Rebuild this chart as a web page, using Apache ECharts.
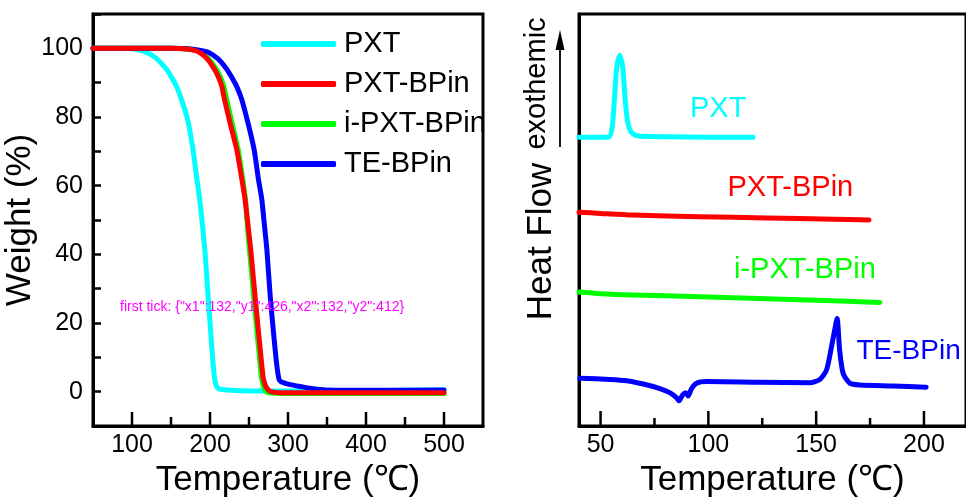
<!DOCTYPE html>
<html>
<head>
<meta charset="utf-8">
<script src="https://cdn.jsdelivr.net/npm/echarts@6/dist/echarts.min.js"></script>
<style>
html,body{margin:0;padding:0;background:#fff;}
#c{width:966px;height:503px;}
</style>
</head>
<body>
<div id="c"></div>
<script>
// ---- TGA (left panel): [temperature, weight %] ----
const tgaPXT = [[50,100],[90,100],[105,99.7],[118,98.9],[130,97.3],[143.9,94],[150,91.8],[156.8,89.1],[163.2,85.2],[171,79.5],[178.2,70.6],[182.5,63],[186.8,56],[193.3,41.4],[197.6,27.8],[201,17],[204,8],[206.2,3.4],[208,1.8],[210.5,1.0],[215,0.6],[240,0.3],[300,0.2],[400,0.3],[500,0.5]];
const tgaPXTBPin = [[50,100],[150,100],[170,99.8],[180,99.4],[188,98.6],[197,96.8],[206,93.8],[211,91.5],[215,89.1],[218.5,85.2],[226,78],[234.2,70.6],[240,63],[244.9,56],[249,48],[252.2,41.4],[257.8,27.8],[261.5,19],[265,11],[268.3,4],[271,1.8],[274,0.7],[278,0],[290,-0.3],[400,-0.3],[500,-0.3]];
const tgaIPXTBPin = [[50,100],[150,100],[172,99.8],[182,99.4],[190,98.6],[199,96.8],[208.5,93.8],[213.5,91.5],[217.5,89.1],[221.3,85.2],[228.5,78],[236,70.6],[241.3,63],[245.5,56],[248,48],[250.5,41.4],[256,27.8],[259.5,19],[263,11],[266,4],[268.5,1.5],[271,0.2],[275,-0.3],[300,-0.5],[500,-0.5]];
const tgaTEBPin = [[50,100],[150,100],[178,99.7],[190,99.3],[197.6,98.9],[210,97],[221.3,94],[228,91.5],[234,89],[240.6,85.2],[249,78],[256.5,70.6],[262,62],[266.4,56],[270,48],[272.9,41.4],[277.2,27.8],[281.5,17],[285.5,8],[288.5,3.6],[290.5,3.0],[293,2.7],[300,2.2],[315.9,1.5],[337.4,0.7],[360,0.4],[400,0.4],[500,0.5]];

// ---- DSC (right panel): [temperature, heat flow (a.u.)] ----
const dscPXT = [[40,70.1],[50,70.1],[54,70.2],[55.5,73],[56.5,80],[57.5,87],[58.9,90],[60.3,87],[61.3,80],[62.5,74],[64,71.5],[66,70.6],[70,70.3],[80,70.2],[100,70.1],[120.7,70.1]];
const dscPXTBPin = [[40,51.9],[50,51.6],[65,51.2],[96,50.8],[127,50.5],[157.8,50.2],[174.5,50.0]];
const dscIPXTBPin = [[40,32.5],[50,32.1],[65,31.8],[96,31.4],[127,30.9],[157.8,30.4],[179.5,30.0]];
const dscTEBPin = [[40.4,11.6],[54.3,11.3],[62.1,11.0],[69.8,10.2],[77.5,9.1],[82.1,8.1],[85.2,6.9],[86.4,6.1],[88.0,7.5],[89.5,8.1],[90.6,7.3],[92.2,9.1],[94.5,10.4],[99.1,10.8],[123.9,10.6],[147,10.5],[151.7,11.3],[154.8,13.6],[157.1,19.2],[158.6,23.3],[159.7,26.1],[160.9,18.4],[162.5,12.8],[165.6,10.4],[170.2,9.95],[185.6,9.7],[201,9.4]];

// ---- axis ticks / labels ----
const tgaXLabels = [100,200,300,400,500];
const tgaXMinor = [150,250,350,450];
const dscXLabels = [50,100,150,200];
const dscXMinor = [75,125,175];
const seriesNames = ['PXT','PXT-BPin','i-PXT-BPin','TE-BPin'];
const seriesColors = ['#00FFFF','#FF0000','#00FF00','#0000FF'];

const TGA_YMIN = -10, DSC_YMIN = 0;
const FONT = 'Liberation Sans, Arial, sans-serif';
const chart = echarts.init(document.getElementById('c'), null, {renderer:'canvas'});

function lineSeries(name, data, xi, yi, color){
  return {
    name: name, type:'line', data: data, xAxisIndex: xi, yAxisIndex: yi,
    showSymbol:false, symbol:'none', color: color,
    smooth:0.25,
    lineStyle:{width:5, color: color, cap:'round', join:'round'},
    itemStyle:{color: color},
    silent:true
  };
}
const axisLineStyle = {show:true, onZero:false, lineStyle:{color:'#000', width:3}};

const option = {
  animation:false,
  backgroundColor:'#fff',
  tooltip:{show:false},
  grid:[
    {left:93, top:14, width:390, height:412, show:true, borderColor:'#000', borderWidth:3, backgroundColor:'transparent'},
    {left:579, top:14, width:387, height:412, show:true, borderColor:'#000', borderWidth:3, backgroundColor:'transparent'}
  ],
  legend:{
    data: seriesNames, orient:'vertical', left:256, top:24,
    itemWidth:75, itemHeight:6, itemGap:10, icon:'roundRect',
    textStyle:{fontSize:29, lineHeight:30, color:'#000', fontFamily:FONT, padding:[0,0,0,3]},
    selectedMode:false
  },
  xAxis:[
    {gridIndex:0, type:'value', position:'bottom', min:50, max:550, axisLine:axisLineStyle,
     axisTick:{show:false},
     axisLabel:{show:true, customValues:tgaXLabels, fontSize:25, color:'#000', fontFamily:FONT, margin:7},
     splitLine:{show:false},
     name:'Temperature (℃)', nameLocation:'middle', nameGap:31,
     nameTextStyle:{fontSize:35, color:'#000', fontFamily:FONT}},
    {gridIndex:1, type:'value', position:'bottom', min:40, max:219.5, axisLine:axisLineStyle,
     axisTick:{show:false},
     axisLabel:{show:true, customValues:dscXLabels, fontSize:25, color:'#000', fontFamily:FONT, margin:7},
     splitLine:{show:false},
     name:'Temperature (℃)', nameLocation:'middle', nameGap:31,
     nameTextStyle:{fontSize:35, color:'#000', fontFamily:FONT}}
  ],
  yAxis:[
    {gridIndex:0, type:'value', position:'left', min:TGA_YMIN, max:110, interval:10, axisLine:axisLineStyle,
     axisTick:{show:true, inside:true, length:8, lineStyle:{color:'#000', width:2.5}},
     axisLabel:{show:true, fontSize:25, color:'#000', fontFamily:FONT, margin:10,
       formatter:function(v){ return (v>=0 && v<=100 && v%20===0) ? String(v) : ''; }},
     splitLine:{show:false},
     name:'Weight (%)', nameLocation:'middle', nameGap:39,
     nameTextStyle:{fontSize:35, color:'#000', fontFamily:FONT}},
    {gridIndex:1, type:'value', position:'left', min:DSC_YMIN, max:100, axisLine:axisLineStyle,
     axisTick:{show:false}, axisLabel:{show:false}, splitLine:{show:false}}
  ],
  series:[
    lineSeries('PXT', tgaPXT, 0, 0, seriesColors[0]),
    lineSeries('i-PXT-BPin', tgaIPXTBPin, 0, 0, seriesColors[2]),
    lineSeries('TE-BPin', tgaTEBPin, 0, 0, seriesColors[3]),
    lineSeries('PXT-BPin', tgaPXTBPin, 0, 0, seriesColors[1]),
    lineSeries('PXT', dscPXT, 1, 1, seriesColors[0]),
    lineSeries('PXT-BPin', dscPXTBPin, 1, 1, seriesColors[1]),
    lineSeries('i-PXT-BPin', dscIPXTBPin, 1, 1, seriesColors[2]),
    lineSeries('TE-BPin', dscTEBPin, 1, 1, seriesColors[3])
  ],
  graphic:[
    {id:'lblPXT', type:'text', x:690, y:108.5, style:{text:'PXT', fill:seriesColors[0], font:'29px '+FONT, textAlign:'left', textVerticalAlign:'middle'}},
    {id:'lblPXTB', type:'text', x:727.5, y:188, style:{text:'PXT-BPin', fill:seriesColors[1], font:'29px '+FONT, textAlign:'left', textVerticalAlign:'middle'}},
    {id:'lblIPXT', type:'text', x:734, y:269.5, style:{text:'i-PXT-BPin', fill:seriesColors[2], font:'29px '+FONT, textAlign:'left', textVerticalAlign:'middle'}},
    {id:'lblTE', type:'text', x:856.5, y:351, style:{text:'TE-BPin', fill:seriesColors[3], font:'28px '+FONT, textAlign:'left', textVerticalAlign:'middle'}},
    {id:'ttlHF', type:'text', x:541, y:241.5, rotation:Math.PI/2, style:{text:'Heat Flow', fill:'#000', font:'35px '+FONT, textAlign:'center', textVerticalAlign:'middle'}},
    {id:'ttlExo', type:'text', x:537, y:83.5, rotation:Math.PI/2, style:{text:'exothemic', fill:'#000', font:'29px '+FONT, textAlign:'center', textVerticalAlign:'middle'}},
    {id:'arrLine', type:'line', shape:{x1:560, y1:147, x2:560, y2:44}, style:{stroke:'#000', lineWidth:1.8}},
    {id:'arrHead', type:'polygon', shape:{points:[[560,30],[555.5,50],[564.5,50]]}, style:{fill:'#000'}}
  ]
};
chart.setOption(option);

// inward x-axis ticks (major + minor), positioned through the axis scales
function toNum(p){ return Array.isArray(p) ? p[0] : p; }
function toNumY(p){ return Array.isArray(p) ? p[1] : p; }
function tickGraphics(prefix, xi, yi, yMin, majors, minors, majorLen, minorLen){
  const out = [];
  majors.map(v => [v, majorLen]).concat(minors.map(v => [v, minorLen])).forEach(function(t, i){
    const p = chart.convertToPixel({xAxisIndex: xi, yAxisIndex: yi}, [t[0], yMin]);
    const x = toNum(p), yb = toNumY(p);
    out.push({id: prefix + i, type:'line', z:100,
      shape:{x1:x, y1:yb, x2:x, y2:yb - t[1]}, style:{stroke:'#000', lineWidth:2.5}});
  });
  return out;
}
let tickEls = [];
let dbg = '';
try {
  tickEls = tickGraphics('tkL', 0, 0, TGA_YMIN, tgaXLabels, tgaXMinor, 14, 9)
    .concat(tickGraphics('tkR', 1, 1, DSC_YMIN, dscXLabels, dscXMinor, 15, 8));
  dbg = 'first tick: ' + JSON.stringify(tickEls[0].shape);
} catch (e) { dbg = 'ERR ' + e.message; }
tickEls.push({id:'dbg', type:'text', x:120, y:300, z:100, style:{text:dbg, fill:'#f0f', font:'14px sans-serif'}});
chart.setOption({graphic: tickEls});
</script>
</body>
</html>
